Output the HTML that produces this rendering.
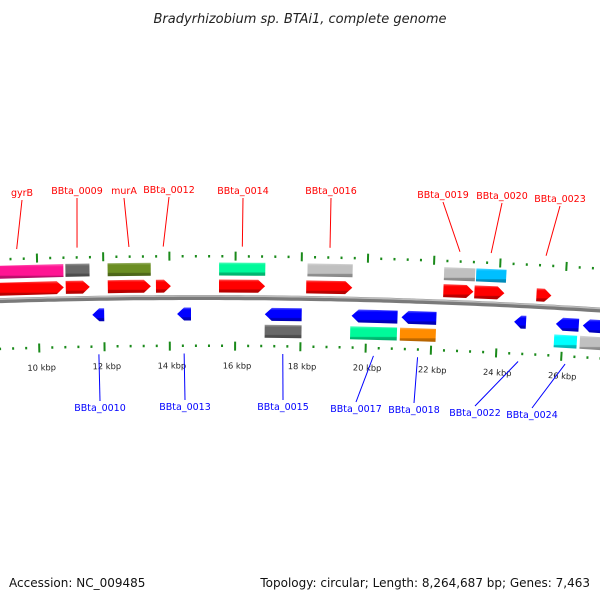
<!DOCTYPE html>
<html><head><meta charset="utf-8">
<style>
html,body{margin:0;padding:0;background:#fff;}
svg{display:block;font-family:"DejaVu Sans","Liberation Sans",sans-serif;}
</style></head>
<body>
<svg id="map" width="600" height="600" viewBox="0 0 600 600" xmlns="http://www.w3.org/2000/svg">
<defs id="defs"></defs>
<text x="300" y="23" text-anchor="middle" font-size="13" font-style="italic" fill="#222">Bradyrhizobium sp. BTAi1, complete genome</text>
<g id="plot"></g>
<text x="9" y="587" font-size="12" fill="#111">Accession: NC_009485</text>
<text x="590" y="587" text-anchor="end" font-size="12" fill="#111">Topology: circular; Length: 8,264,687 bp; Genes: 7,463</text>
</svg>
<script>
// ---- data (bp) ----
const fwdCdsStart = [8000, 10851, 12128, 13587, 15502, 18147, 22312, 23254, 25139];
const fwdCdsEnd   = [10790, 11581, 13435, 14043, 16901, 19546, 23224, 24166, 25595];
const fwdGeneStart = [8000, 10851, 12128, 15502, 18178, 22312, 23285];
const fwdGeneEnd   = [10790, 11581, 13435, 16901, 19546, 23254, 24197];
const fwdGeneColor = ["#ff1493", "#696969", "#6b8e23", "#00fa9a", "#c0c0c0", "#c0c0c0", "#00bfff"];
const revCdsStart = [11642, 14226, 16901, 19546, 21066, 24501, 25778, 26598];
const revCdsEnd   = [12006, 14651, 18026, 20944, 22130, 24866, 26477, 27500];
const revGeneStart = [16901, 19515, 21035, 25747, 26537];
const revGeneEnd   = [18026, 20944, 22130, 26446, 27500];
const revGeneColor = ["#696969", "#00fa9a", "#ff8c00", "#00ffff", "#c0c0c0"];
const topLabels = ["gyrB","BBta_0009","murA","BBta_0012","BBta_0014","BBta_0016","BBta_0019","BBta_0020","BBta_0023"];
const topLabelCds = [0,1,2,3,4,5,6,7,8];
const topLabelX = [22,77,124,169,243,331,443,502,560];
const topLabelY = [196,194,194,193,194,194,198,199,202];
const botLabels = ["BBta_0010","BBta_0013","BBta_0015","BBta_0017","BBta_0018","BBta_0022","BBta_0024"];
const botLabelCds = [0,1,2,3,4,5,6];
const botLabelX = [100,185,283,356,414,475,532];
const botLabelY = [411,410,410,412,413,416,418];
const tickStart = 8800, tickEnd = 27600, tickMinor = 400, tickMajor = 2000;

// ---- geometry ----
const R = 6400, CX = 200, CY = 297.5 + R, PXPERBP = 1/30.4, S0 = 38, BP0 = 10000;
function sOf(bp){ return S0 + (bp - BP0) * PXPERBP; }
function pt(bp, off){ const phi = (sOf(bp) - CX) / R; const r = R + off; return [CX + r*Math.sin(phi), CY - r*Math.cos(phi)]; }
function angDeg(bp){ return (sOf(bp) - CX) / R * 180 / Math.PI; }
const NS = "http://www.w3.org/2000/svg";
const plot = document.getElementById('plot');
const defs = document.getElementById('defs');
function mk(tag, attrs, parent){ const e = document.createElementNS(NS, tag); for (const k in attrs) e.setAttribute(k, attrs[k]); (parent||plot).appendChild(e); return e; }
function shade(hex, f){ const n = parseInt(hex.slice(1),16); let r=n>>16,g=(n>>8)&255,b=n&255;
  if (f>0){ r+= (255-r)*f; g+=(255-g)*f; b+=(255-b)*f; } else { r*=1+f; g*=1+f; b*=1+f; }
  return "rgb("+Math.round(r)+","+Math.round(g)+","+Math.round(b)+")"; }
const grads = {};
function grad(c){ if (grads[c]) return grads[c]; const id = "g"+Object.keys(grads).length;
  const lg = mk('linearGradient', {id:id, x1:0, y1:0, x2:0, y2:1}, defs);
  mk('stop',{offset:0,'stop-color':shade(c,0.35)},lg); mk('stop',{offset:0.18,'stop-color':c},lg);
  mk('stop',{offset:0.72,'stop-color':c},lg); mk('stop',{offset:0.78,'stop-color':shade(c,-0.25)},lg);
  mk('stop',{offset:1,'stop-color':shade(c,-0.3)},lg);
  grads[c] = "url(#"+id+")"; return grads[c]; }
function feature(a, b, lo, hi, color, dir, name){
  const head = 7 / PXPERBP;
  let pts;
  const mid = (lo+hi)/2;
  if (dir === 1){ const h = Math.max(a, b-head);
    pts = [pt(a,lo), pt(h,lo), pt(b,mid), pt(h,hi), pt(a,hi)];
  } else if (dir === -1){ const h = Math.min(b, a+head);
    pts = [pt(b,lo), pt(h,lo), pt(a,mid), pt(h,hi), pt(b,hi)];
  } else { pts = [pt(a,lo), pt(b,lo), pt(b,hi), pt(a,hi)]; }
  const p = mk('polygon', {points: pts.map(q=>q[0].toFixed(1)+","+q[1].toFixed(1)).join(" "), fill: grad(color)});
  
  
  return p;
}

// backbone
(function(){ let d = ""; for (let bp = 7500; bp <= 28500; bp += 200){ const q = pt(bp,0); d += (d?"L":"M")+q[0].toFixed(1)+","+q[1].toFixed(1); }
  const bb = mk('path', {d:d, fill:'none', stroke:'#7a7a7a', 'stroke-width':5});
  
  
  const hl = mk('path', {d:d, fill:'none', stroke:'#bdbdbd', 'stroke-width':1.5, transform:'translate(0,-1.5)'});
  
  
})();

// ticks
for (let bp = tickStart; bp <= tickEnd; bp += tickMinor){
  const major = (bp % tickMajor === 0);
  const oa = major ? [37,46] : [40,42.5];
  const ia = major ? [-44,-53] : [-47,-49.5];
  const a1 = pt(bp,oa[0]), a2 = pt(bp,oa[1]);
  const t1 = mk('line', {x1:a1[0],y1:a1[1],x2:a2[0],y2:a2[1],stroke:'#1a8a1a','stroke-width':2});
  
  
  const b1 = pt(bp,ia[0]), b2 = pt(bp,ia[1]);
  const t2 = mk('line', {x1:b1[0],y1:b1[1],x2:b2[0],y2:b2[1],stroke:'#1a8a1a','stroke-width':2});
  
  
  if (major){ const q = pt(bp,-68);
    const tl = mk('text', {x:q[0]+2, y:q[1]+3, 'text-anchor':'middle', 'font-size':8.3, fill:'#222', transform:'rotate('+angDeg(bp).toFixed(2)+' '+q[0]+' '+q[1]+')'});
    tl.textContent = (bp/1000) + " kbp";
    
    
  }
}

// features
for (let i=0;i<fwdCdsStart.length;i++) feature(fwdCdsStart[i], fwdCdsEnd[i], 5, 18, "#ff0000", 1, "forward-cds");
for (let i=0;i<fwdGeneStart.length;i++) feature(fwdGeneStart[i], fwdGeneEnd[i], 22, 35, fwdGeneColor[i], 0, "forward-gene");
for (let i=0;i<revCdsStart.length;i++) feature(revCdsStart[i], revCdsEnd[i], -10, -23, "#0000ff", -1, "reverse-cds");
for (let i=0;i<revGeneStart.length;i++) feature(revGeneStart[i], revGeneEnd[i], -27, -40, revGeneColor[i], 0, "reverse-gene");

// labels
for (let i=0;i<topLabels.length;i++){
  const k = topLabelCds[i]; const e = pt((fwdCdsStart[k]+fwdCdsEnd[k])/2, 51);
  const l = mk('line', {x1:topLabelX[i], y1:topLabelY[i]+4, x2:e[0], y2:e[1], stroke:'#ff0000', 'stroke-width':1});
  
  
  const t = mk('text', {x:topLabelX[i], y:topLabelY[i], 'text-anchor':'middle', 'font-size':9.5, fill:'#ff0000'});
  t.textContent = topLabels[i];
  
  
}
for (let i=0;i<botLabels.length;i++){
  const k = botLabelCds[i]; const e = pt((revCdsStart[k]+revCdsEnd[k])/2, -56);
  const l = mk('line', {x1:botLabelX[i], y1:botLabelY[i]-10, x2:e[0], y2:e[1], stroke:'#0000ff', 'stroke-width':1});
  
  
  const t = mk('text', {x:botLabelX[i], y:botLabelY[i], 'text-anchor':'middle', 'font-size':9.5, fill:'#0000ff'});
  t.textContent = botLabels[i];
  
  
}
</script>
</body></html>
